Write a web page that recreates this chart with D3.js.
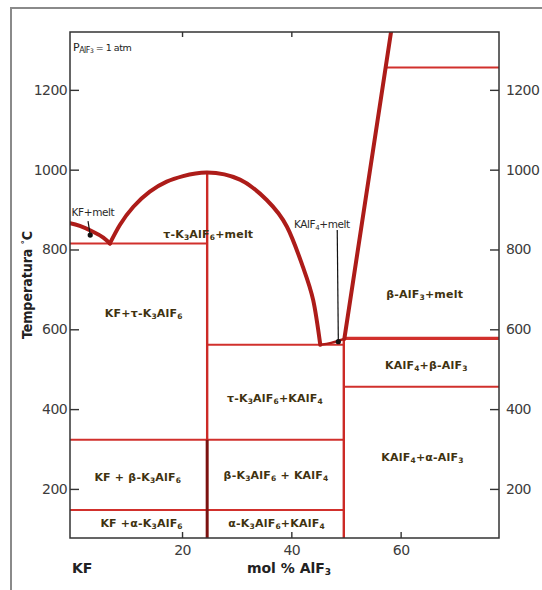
<!DOCTYPE html>
<html>
<head>
<meta charset="utf-8">
<script src="https://cdn.jsdelivr.net/npm/d3@7"></script>
<style>
  body { margin: 0; background: #fff; }
  svg { display: block; }
  .tick text { font-family: "DejaVu Sans", sans-serif; font-size: 14px; fill: #3c3c3c; letter-spacing: -0.6px; }
  .tick line { stroke: #333; stroke-width: 1.4; }
  .lbl { font-family: "DejaVu Sans", sans-serif; font-weight: bold; font-size: 11px; fill: #3f3210; letter-spacing: 0.2px; }
</style>
</head>
<body>
<div id="chart"></div>
<script>
// diagramma di fase KF - AlF3  (mol % AlF3 , temperatura in C)
const W = 542, H = 590

const yTicks = [200, 400, 600, 800, 1000, 1200]
const xTicks = [20, 40, 60]
const xTopTicks = [20, 40]

// liquidus (mol % AlF3, T)
const liqKF = [[-0.5, 866], [1.3, 859], [3.8, 844], [5.6, 830], [6.8, 815]]
const liqDome = [[6.8, 815], [8.65, 862], [11.1, 907], [14.1, 945], [17.2, 970], [20.2, 984],
                 [24.6, 993], [30.6, 975], [35.5, 924], [39.2, 857], [42.1, 757], [44.0, 673], [45.3, 561]]
const liqKAlF4 = [[45.3, 561], [47.3, 566], [49.7, 576]]
const liqAlF3 = [[49.7, 576], [58.3, 1350]]

// linee orizzontali [x1, x2, T]
const isotherms = [
  [-0.5, 24.6, 815],
  [24.6, 49.6, 561],
  [49.6, 78, 577],
  [49.6, 78, 456],
  [-0.5, 49.6, 323],
  [-0.5, 49.6, 147],
  [57.1, 78, 1256]
]
// linee verticali [x, T1, T2]
const verticals = [
  [24.6, 993, 323],
  [24.6, 323, 77],
  [49.6, 576, 77]
]

// etichette delle regioni: [testo (segmenti: [stringa, pedice?]), x, T]
const phaseLabels = [
  [[["τ-K", 0], ["3", 1], ["AlF", 0], ["6", 1], ["+melt", 0]], 24.8, 839],
  [[["KF+τ-K", 0], ["3", 1], ["AlF", 0], ["6", 1]], 13.0, 641],
  [[["β-AlF", 0], ["3", 1], ["+melt", 0]], 64.4, 688],
  [[["KAlF", 0], ["4", 1], ["+β-AlF", 0], ["3", 1]], 64.7, 510],
  [[["τ-K", 0], ["3", 1], ["AlF", 0], ["6", 1], ["+KAlF", 0], ["4", 1]], 37.0, 428],
  [[["β-K", 0], ["3", 1], ["AlF", 0], ["6", 1], [" + KAlF", 0], ["4", 1]], 37.2, 235],
  [[["α-K", 0], ["3", 1], ["AlF", 0], ["6", 1], ["+KAlF", 0], ["4", 1]], 37.3, 115],
  [[["KF + β-K", 0], ["3", 1], ["AlF", 0], ["6", 1]], 11.9, 230],
  [[["KF +α-K", 0], ["3", 1], ["AlF", 0], ["6", 1]], 12.6, 115],
  [[["KAlF", 0], ["4", 1], ["+α-AlF", 0], ["3", 1]], 64.0, 280]
]
// etichette con freccia: [testo, x, T, punto x, punto T, inizio linea x, inizio linea T]
const pointers = [
  [[["KF+melt", 0]], 3.7, 893, 3.2, 836, 2.8, 871],
  [[["KAlF", 0], ["4", 1], ["+melt", 0]], 45.6, 864, 48.6, 569, 48.4, 849]
]

const svg = d3.select('#chart').append('svg')
  .attr('width', W).attr('height', H)

// cornice esterna
svg.append('rect')
  .attr('x', 11).attr('y', 8).attr('width', 560).attr('height', 620)
  .attr('fill', 'none').attr('stroke', '#8a8a8a').attr('stroke-width', 2)

const x = d3.scaleLinear().domain([-0.5, 78]).range([70, 499])
const y = d3.scaleLinear().domain([77, 1345]).range([538, 32])

svg.append('clipPath').attr('id', 'clip')
  .append('rect').attr('x', 70).attr('y', 32).attr('width', 429).attr('height', 506)

const g = svg.append('g').attr('clip-path', 'url(#clip)')

// linee sottili
g.selectAll('line.iso').data(isotherms).enter().append('line')
  .attr('x1', d => x(d[0])).attr('x2', d => x(d[1]))
  .attr('y1', d => y(d[2])).attr('y2', d => y(d[2]))
  .attr('stroke', '#d1302c')
  .attr('stroke-width', (d, i) => i == 2 ? 3.2 : 2)

g.selectAll('line.vert').data(verticals).enter().append('line')
  .attr('x1', d => x(d[0])).attr('x2', d => x(d[0]))
  .attr('y1', d => y(d[1])).attr('y2', d => y(d[2]))
  .attr('stroke', (d, i) => i == 1 ? '#7c1210' : '#cc2a26')
  .attr('stroke-width', (d, i) => i == 1 ? 3 : 2.4)

// liquidus spesso
const line = d3.line().x(d => x(d[0])).y(d => y(d[1])).curve(d3.curveNatural)
const liq = [liqKF, liqDome, liqKAlF4, liqAlF3]
g.selectAll('path.liq').data(liq).enter().append('path')
  .attr('d', line)
  .attr('fill', 'none')
  .attr('stroke', '#ad1c19')
  .attr('stroke-width', (d, i) => i == 2 ? 2.5 : 4)
  .attr('stroke-linecap', 'round')

// assi
svg.append('rect')
  .attr('x', 70).attr('y', 32).attr('width', 429).attr('height', 506)
  .attr('fill', 'none').attr('stroke', '#333').attr('stroke-width', 1.5)

const fmt = d3.format('d')

svg.append('g').attr('transform', 'translate(70,0)')
  .call(d3.axisLeft(y).tickValues(yTicks).tickFormat(fmt).tickSizeInner(-9).tickSizeOuter(0).tickPadding(3))
  .call(a => a.select('.domain').remove())

svg.append('g').attr('transform', 'translate(499,0)')
  .call(d3.axisRight(y).tickValues(yTicks).tickFormat(fmt).tickSizeInner(-9).tickSizeOuter(0).tickPadding(7))
  .call(a => a.select('.domain').remove())

svg.append('g').attr('transform', 'translate(0,538)')
  .call(d3.axisBottom(x).tickValues(xTicks).tickFormat(fmt).tickSizeInner(-6).tickSizeOuter(0).tickPadding(7))
  .call(a => a.select('.domain').remove())

svg.append('g').attr('transform', 'translate(0,32)')
  .call(d3.axisTop(x).tickValues(xTopTicks).tickSizeInner(-5).tickSizeOuter(0).tickFormat(''))
  .call(a => a.select('.domain').remove())

// testo con pedici
function addText(sel, parts, subSize) {
  parts.forEach(p => {
    const t = sel.append('tspan').text(p[0])
    if (p[1]) t.attr('font-size', subSize).attr('baseline-shift', '-25%')
  })
}

phaseLabels.forEach(d => {
  const t = svg.append('text').attr('class', 'lbl')
    .attr('x', x(d[1])).attr('y', y(d[2])).attr('dy', '0.36em')
    .attr('text-anchor', 'middle')
  addText(t, d[0], '7.5px')
})

pointers.forEach(d => {
  svg.append('line')
    .attr('x1', x(d[5])).attr('y1', y(d[6]))
    .attr('x2', x(d[3])).attr('y2', y(d[4]))
    .attr('stroke', '#111').attr('stroke-width', 1.2)
  svg.append('circle')
    .attr('cx', x(d[3])).attr('cy', y(d[4])).attr('r', 2.6).attr('fill', '#111')
  const t = svg.append('text')
    .attr('x', x(d[1])).attr('y', y(d[2])).attr('dy', '0.36em')
    .attr('text-anchor', 'middle')
    .style('font-family', '"DejaVu Sans", sans-serif').style('font-size', '10.5px')
    .style('letter-spacing', '-0.4px').attr('fill', '#2a2a2a')
  addText(t, d[0], '7px')
})

// P AlF3 = 1 atm
const pt = svg.append('text').attr('x', 73).attr('y', 51)
  .style('font-family', '"DejaVu Sans", sans-serif').style('font-size', '11px')
  .style('letter-spacing', '-0.5px').attr('fill', '#222')
pt.append('tspan').text('P')
pt.append('tspan').text('AlF').attr('font-size', '8px').attr('baseline-shift', '-20%')
pt.append('tspan').text('3').attr('font-size', '6px').attr('baseline-shift', '-40%')
pt.append('tspan').text(' = 1 atm').attr('font-size', '9.5px')

// titoli degli assi
const yt = svg.append('text')
  .attr('transform', 'translate(32,285) rotate(-90)')
  .attr('text-anchor', 'middle')
  .style('font-family', '"DejaVu Sans Condensed", "DejaVu Sans", sans-serif')
  .style('font-weight', 'bold').style('font-size', '14px').attr('fill', '#222')
yt.append('tspan').text('Temperatura ')
yt.append('tspan').text('°').attr('font-size', '9px').attr('baseline-shift', '40%')
yt.append('tspan').text('C')

svg.append('text').attr('x', 72).attr('y', 573)
  .style('font-family', '"DejaVu Sans", sans-serif')
  .style('font-weight', 'bold').style('font-size', '14px').attr('fill', '#222')
  .text('KF')

const xt = svg.append('text').attr('x', 289).attr('y', 573)
  .attr('text-anchor', 'middle')
  .style('font-family', '"DejaVu Sans", sans-serif')
  .style('font-weight', 'bold').style('font-size', '14px').attr('fill', '#222')
xt.append('tspan').text('mol % AlF')
xt.append('tspan').text('3').attr('font-size', '9px').attr('baseline-shift', '-20%')
</script>
</body>
</html>
